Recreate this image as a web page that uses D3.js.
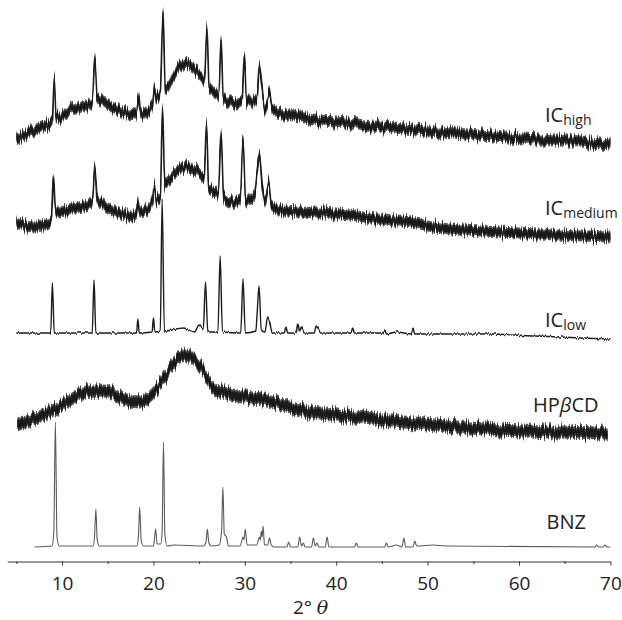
<!DOCTYPE html>
<html lang="en">

<head>
	<meta charset="UTF-8">
	<title>XRD patterns</title>
	<style type="text/css">
		body { margin: 0; background: #fff; }
		svg { display: block; }
		text { font-family: "Open Sans", "Noto Sans", sans-serif; fill: #222; }
	</style>
</head>

<body>
	<div id="chart"></div>

	<script src="https://d3js.org/d3.v7.min.js"></script>
	<script>
		// [2theta, intensity] (intensity already includes the stacking offset)
		var icHigh = [
			[5.0, 423], [6.5, 430], [8.0, 435], [8.7, 439], [8.95, 442], [9.15, 484], [9.35, 444], [9.6, 444],
			[11.0, 452], [12.5, 457], [13.3, 459], [13.6, 504], [13.85, 464], [14.2, 462], [15.5, 455], [17.0, 449],
			[18.1, 447], [18.4, 467], [18.6, 449], [19.3, 449], [19.9, 458], [20.1, 477], [20.3, 464], [20.75, 469],
			[21.05, 550], [21.3, 472], [21.6, 474], [22.2, 485], [23.3, 499], [24.0, 497], [25.1, 487], [25.6, 482],
			[25.85, 535], [26.1, 474], [26.4, 472], [26.9, 467], [27.15, 467], [27.4, 523], [27.65, 464], [28.0, 462],
			[29.1, 459], [29.7, 462], [29.95, 507], [30.2, 460], [30.8, 460], [31.35, 467], [31.6, 498], [31.85, 479],
			[32.2, 452], [32.5, 462], [32.7, 472], [33.0, 454], [33.5, 449], [36.0, 445], [38.2, 441], [40.0, 440],
			[45.1, 435], [52.8, 429], [58.7, 425], [64.0, 422], [70.0, 417]
		];
		var icMedium = [
			[5.0, 340], [6.8, 335], [8.7, 339], [8.85, 344], [9.05, 385], [9.3, 350], [9.6, 350], [11.5, 354],
			[13.1, 359], [13.35, 362], [13.6, 396], [13.85, 362], [14.2, 359], [16.0, 350], [17.8, 345], [18.1, 347],
			[18.3, 362], [18.5, 350], [19.3, 352], [19.9, 362], [20.1, 379], [20.3, 362], [20.75, 364], [21.0, 455],
			[21.25, 377], [21.5, 379], [22.2, 387], [23.3, 395], [24.0, 394], [25.1, 389], [25.55, 384], [25.8, 438],
			[26.05, 374], [26.4, 372], [27.1, 367], [27.4, 429], [27.7, 364], [28.4, 360], [29.5, 362], [29.8, 422],
			[30.1, 362], [31.0, 364], [31.35, 392], [31.6, 410], [31.9, 377], [32.2, 359], [32.6, 380], [32.9, 357],
			[33.5, 352], [36.0, 350], [38.2, 349], [40.0, 348], [42.3, 346], [45.0, 342], [48.2, 340], [50.6, 335],
			[57.9, 330], [64.0, 327], [70.0, 325]
		];
		var icLow = [
			[5.0, 229], [8.75, 229], [8.95, 279], [9.15, 229], [13.3, 229], [13.5, 282], [13.7, 229], [18.15, 229],
			[18.3, 243], [18.45, 229], [19.85, 230], [20.0, 244], [20.15, 230], [20.75, 231], [20.95, 363], [21.2, 231],
			[23.3, 234], [24.5, 230], [25.0, 237], [25.45, 232], [25.7, 280], [25.95, 230], [27.05, 230], [27.3, 306],
			[27.55, 230], [29.55, 229], [29.8, 283], [30.05, 229], [31.2, 231], [31.35, 249], [31.55, 276], [31.8, 232],
			[32.2, 230], [32.5, 245], [32.75, 239], [33.0, 229], [34.3, 229], [34.5, 235], [34.7, 229], [35.6, 229],
			[35.8, 239], [36.0, 231], [36.2, 235], [36.5, 229], [37.6, 229], [37.8, 236], [38.0, 234], [38.3, 229],
			[41.6, 229], [41.8, 234], [42.0, 229], [45.1, 229], [45.3, 232], [45.5, 228], [46.6, 230], [48.2, 228],
			[48.4, 234], [48.6, 228], [57.4, 228], [59.4, 227], [70.0, 223]
		];
		var hpbcd = [
			[5.1, 137], [8.7, 150], [12.0, 167], [14.5, 172], [17.1, 162], [18.5, 160], [20.0, 169], [21.5, 189],
			[22.9, 205], [23.7, 207], [25.1, 195], [26.5, 175], [28.7, 167], [32.4, 162], [36.0, 152], [38.2, 149],
			[42.0, 145], [48.6, 139], [57.9, 132], [64.0, 130], [69.7, 129]
		];
		var bnz = [
			[7.0, 15], [8.9, 16], [9.1, 30], [9.27, 140], [9.45, 25], [9.7, 16], [13.4, 16], [13.55, 25], [13.7, 53],
			[13.85, 22], [14.1, 16], [18.2, 16], [18.35, 25], [18.5, 55], [18.65, 22], [18.9, 16], [20.0, 16],
			[20.1, 22], [20.25, 33], [20.4, 18], [20.8, 18], [20.95, 30], [21.1, 120], [21.25, 28], [21.5, 16],
			[22.25, 17], [25.5, 16], [25.75, 20], [25.9, 33], [26.05, 20], [26.3, 16], [27.2, 17], [27.45, 30],
			[27.6, 75], [27.75, 28], [28.0, 25], [28.2, 16], [29.5, 16], [29.8, 25], [29.9, 22], [30.05, 33],
			[30.25, 17], [31.3, 17], [31.6, 25], [31.7, 22], [31.8, 31], [31.9, 25], [32.0, 36], [32.15, 17],
			[32.5, 17], [32.7, 24], [32.9, 17], [33.2, 15], [34.6, 15], [34.8, 20], [35.0, 15], [35.8, 15], [36.0, 25],
			[36.2, 16], [36.4, 19], [36.6, 15], [37.3, 15], [37.5, 24], [37.7, 16], [37.9, 19], [38.1, 15], [38.8, 15],
			[39.0, 25], [39.2, 15], [42.0, 15], [42.2, 19], [42.4, 15], [45.3, 15], [45.5, 19], [45.7, 15], [46.6, 17],
			[47.2, 15], [47.4, 24], [47.6, 15], [48.4, 15], [48.6, 21], [48.8, 16], [50.6, 17], [52.0, 16], [68.3, 15],
			[68.5, 17], [68.7, 15], [69.2, 15], [69.4, 17], [69.6, 15], [70.0, 15]
		];

		var names = ['IC', 'IC', 'IC', 'HP', 'BNZ'];
		var subs = ['high', 'medium', 'low', '', ''];
		// half spread of the noise band, in intensity units
		var noise = [5.5, 5.5, 0, 6.5, 0];
		var majorTicks = [10, 20, 30, 40, 50, 60, 70];
		var minorTicks = [5, 15, 25, 35, 45, 55, 65];

		var series = [icHigh, icMedium, icLow, hpbcd, bnz];

		var width = 622, height = 620;

		var xScale = d3.scaleLinear()
			.domain([4, 70])
			.range([7.2, 610.4]);

		var yScale = d3.scaleLinear()
			.domain([0, 562])
			.range([562, 0]);

		var svg = d3.select('#chart')
			.append('svg')
			.attr('width', width)
			.attr('height', height);

		// texture filters: jitter the traces up and down so they look like raw counts
		var defs = svg.append('defs');
		function addGrain(id, amount) {
			var filt = defs.append('filter')
				.attr('id', id)
				.attr('filterUnits', 'userSpaceOnUse')
				.attr('x', 0).attr('y', 0)
				.attr('width', width).attr('height', height);
			filt.append('feTurbulence')
				.attr('type', 'fractalNoise')
				.attr('baseFrequency', '0.9 0.004')
				.attr('numOctaves', 2)
				.attr('seed', 7)
				.attr('result', 'turb');
			filt.append('feColorMatrix')
				.attr('in', 'turb')
				.attr('type', 'matrix')
				.attr('values', '0 0 0 0 0.5  0 1 0 0 0  0 0 1 0 0  0 0 0 0 1')
				.attr('result', 'map');
			filt.append('feDisplacementMap')
				.attr('in', 'SourceGraphic')
				.attr('in2', 'map')
				.attr('scale', amount)
				.attr('xChannelSelector', 'R')
				.attr('yChannelSelector', 'G');
		}
		addGrain('grain', 13);
		addGrain('grainFine', 3.5);

		var lineGen = d3.line()
			.x(d => xScale(d[0]))
			.y(d => yScale(d[1]))
			.curve(d3.curveMonotoneX);

		var bandGen = (k) => d3.area()
			.x(d => xScale(d[0]))
			.y0(d => yScale(d[1] - k))
			.y1(d => yScale(d[1] + k))
			.curve(d3.curveMonotoneX);

		series.forEach((set, idx) => {
			var n = noise[idx];
			var g = svg.append('g');
			if (n > 0) {
				g.attr('filter', 'url(#grain)');
				g.append('path')
					.datum(set)
					.attr('d', bandGen(n))
					.attr('fill', '#555');
				g.append('path')
					.datum(set)
					.attr('d', bandGen(n * 0.65))
					.attr('fill', '#1a1a1a');
			}
			if (idx == 2) g.attr('filter', 'url(#grainFine)');
			g.append('path')
				.datum(set)
				.attr('d', lineGen)
				.attr('fill', 'none')
				.attr('stroke', idx == 4 ? '#5a5a5a' : '#1a1a1a')
				.attr('stroke-width', idx == 4 ? 1.1 : (idx == 2 ? 1.4 : 1.6))
				.attr('stroke-linejoin', 'round');
		});

		// axis
		var axisG = svg.append('g')
			.attr('transform', 'translate(0, 561.5)');

		axisG.call(d3.axisBottom(xScale)
			.tickValues(majorTicks)
			.tickSize(4)
			.tickSizeOuter(0));

		axisG.append('g').call(d3.axisBottom(xScale)
			.tickValues(minorTicks)
			.tickSize(2.5)
			.tickSizeOuter(0)
			.tickFormat(''))
			.select('.domain').remove();

		axisG.selectAll('path, line').attr('stroke', '#333').attr('stroke-width', 1);
		axisG.selectAll('text')
			.attr('dy', null)
			.attr('y', 28.5)
			.style('font-family', '"Open Sans", sans-serif')
			.style('font-size', '19px')
			.attr('fill', '#222');

		var title = svg.append('text')
			.attr('x', xScale(37.2))
			.attr('y', 614)
			.attr('text-anchor', 'middle')
			.style('font-size', '19px');
		title.append('tspan').text('2° ');
		title.append('tspan').style('font-style', 'italic').style('font-family', '"DejaVu Serif", serif').text('θ');

		// trace labels
		var labelPos = [[545, 122], [545, 215], [545, 327], [533, 412], [546.5, 529]];
		names.forEach((nm, i) => {
			var t = svg.append('text')
				.attr('x', labelPos[i][0])
				.attr('y', labelPos[i][1])
				.style('font-size', '20px');
			t.append('tspan').text(nm);
			if (i == 3) {
				t.append('tspan').style('font-style', 'italic').text('β');
				t.append('tspan').text('CD');
			}
			if (subs[i]) {
				t.append('tspan')
					.attr('dy', 3)
					.style('font-size', '14px')
					.text(subs[i]);
			}
		});
	</script>
</body>

</html>
